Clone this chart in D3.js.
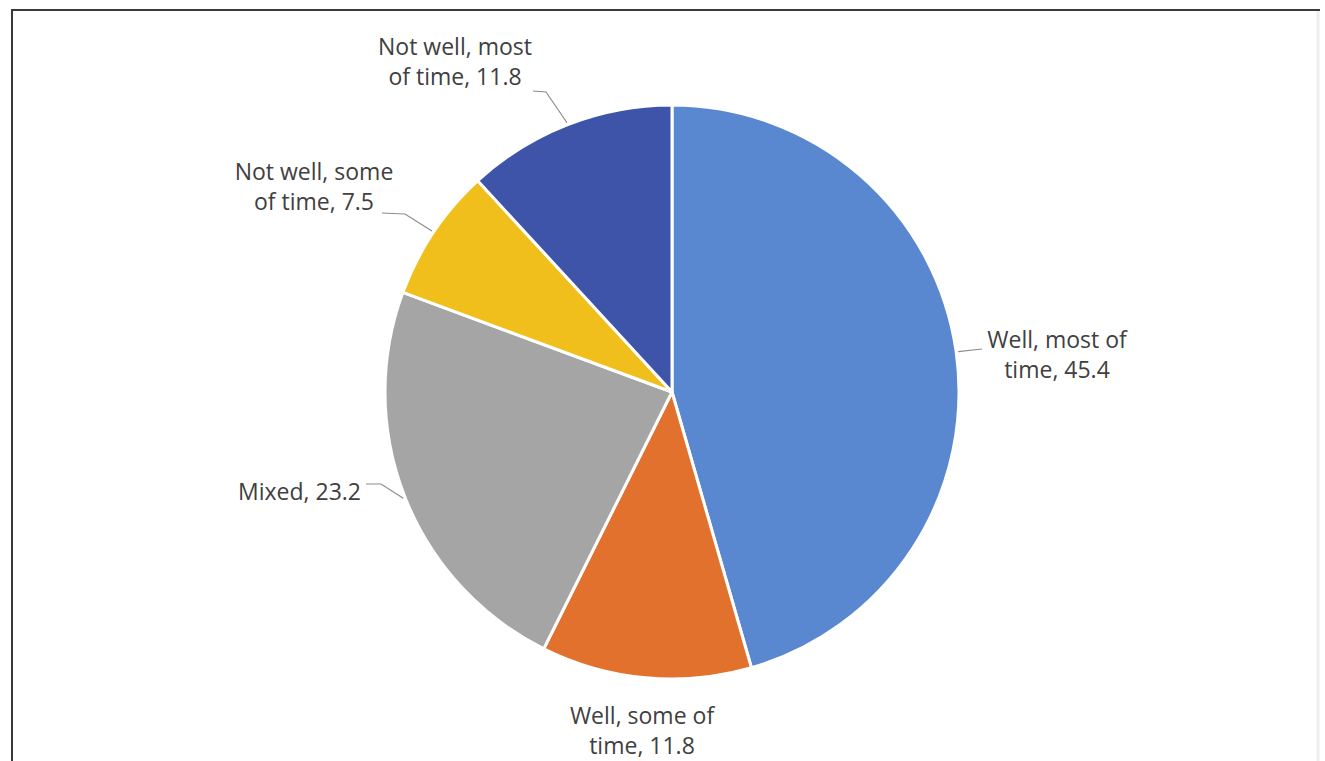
<!DOCTYPE html>
<html>
  <head>
    <meta charset="utf-8" />
    <title>pie</title>
    <script src="https://cdn.jsdelivr.net/npm/d3@7"></script>
    <style type="text/css">
      body { margin: 0; background: #fff; }
      text { font-family: "Open Sans", "Noto Sans", sans-serif; fill: #404040; }
    </style>
  </head>
  <body>
    <svg id="chart" width="1325" height="761"></svg>
    <script type="text/javascript">
      // data
      var categories = ['Well, most of time', 'Well, some of time', 'Mixed', 'Not well, some of time', 'Not well, most of time'];
      var values = [45.4, 11.8, 23.2, 7.5, 11.8];
      var labelLines = [
        ['Well, most of', 'time, 45.4'],
        ['Well, some of', 'time, 11.8'],
        ['Mixed, 23.2'],
        ['Not well, some', 'of time, 7.5'],
        ['Not well, most', 'of time, 11.8']
      ];
      var colors = ['#5a88d0', '#e2712e', '#a6a5a6', '#f0bf1c', '#3e54a8'];

      // label placement (x, y of first line, anchor) and leader elbow
      var labelPos = [
        { x: 1057, y: 348, anchor: 'middle', elbow: [982, 349], leader: true },
        { x: 642, y: 724, anchor: 'middle', leader: false },
        { x: 361, y: 500, anchor: 'end', elbow: [381, 484], start: [366, 484], leader: true },
        { x: 314, y: 180, anchor: 'middle', elbow: [405, 214], start: [382, 213], leader: true },
        { x: 455, y: 55, anchor: 'middle', elbow: [546, 92], start: [533, 91], leader: true }
      ];

      var svg = d3.select('#chart');
      var cx = 672, cy = 392, r = 287;

      // frame: dark top and left, faint right
      svg.append('path')
        .attr('d', 'M12,770 L12,10 L1320,10')
        .attr('fill', 'none')
        .attr('stroke', '#3a3a3a')
        .attr('stroke-width', 2);
      svg.append('line')
        .attr('x1', 1318).attr('x2', 1318).attr('y1', 11).attr('y2', 770)
        .attr('stroke', '#eeeeee').attr('stroke-width', 3);

      var pie = d3.pie().sort(null).value(function (d) { return d; });
      var arcs = pie(values);
      var arc = d3.arc().innerRadius(0).outerRadius(r);

      var g = svg.append('g').attr('transform', 'translate(' + cx + ',' + cy + ')');
      g.selectAll('path.slice')
        .data(arcs)
        .enter()
        .append('path')
        .attr('class', 'slice')
        .attr('d', arc)
        .attr('fill', function (d, i) { return colors[i]; })
        .attr('stroke', '#fff')
        .attr('stroke-width', 3)
        .attr('stroke-linejoin', 'round');

      // leader lines from slice edge
      arcs.forEach(function (d, i) {
        var p = labelPos[i];
        if (!p.leader) return;
        var a = (d.startAngle + d.endAngle) / 2;
        var ex = cx + (r + 2) * Math.sin(a);
        var ey = cy - (r + 2) * Math.cos(a);
        var pts = [[ex, ey], p.elbow];
        if (p.start) pts.push(p.start);
        svg.append('path')
          .attr('d', d3.line()(pts))
          .attr('fill', 'none')
          .attr('stroke', '#8c8c8c')
          .attr('stroke-width', 1.2);
      });

      // labels
      labelLines.forEach(function (lines, i) {
        var p = labelPos[i];
        var t = svg.append('text')
          .attr('x', p.x)
          .attr('y', p.y)
          .attr('text-anchor', p.anchor)
          .style('font-size', '23px');
        lines.forEach(function (s, k) {
          t.append('tspan').attr('x', p.x).attr('dy', k === 0 ? 0 : 29.5).text(s);
        });
      });
    </script>
  </body>
</html>
